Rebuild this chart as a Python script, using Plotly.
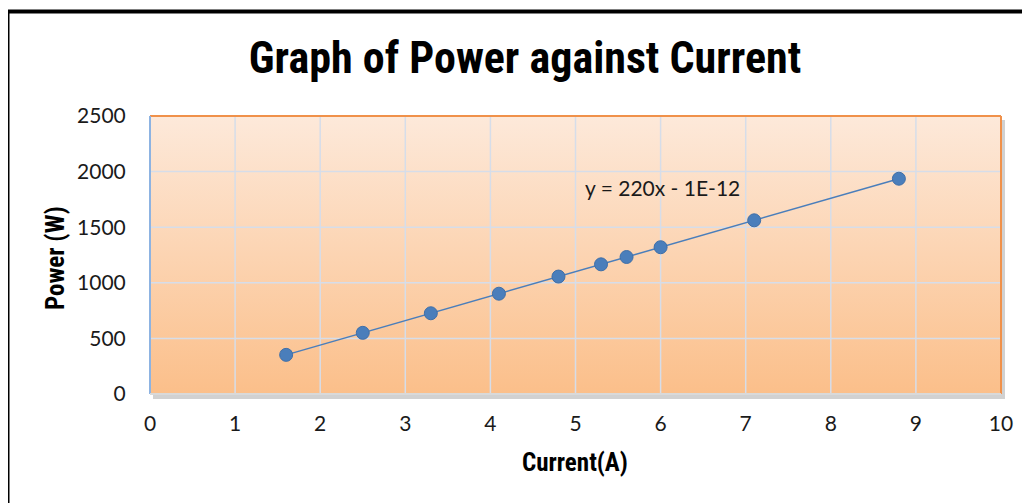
import numpy as np
import plotly.graph_objects as go

current = [1.6, 2.5, 3.3, 4.1, 4.8, 5.3, 5.6, 6.0, 7.1, 8.8]
power = [352, 550, 726, 902, 1056, 1166, 1232, 1320, 1562, 1936]
x_ticks = [0, 1, 2, 3, 4, 5, 6, 7, 8, 9, 10]
y_ticks = [0, 500, 1000, 1500, 2000, 2500]
title_text = "Graph of Power against Current"
x_title = "Current(A)"
y_title = "Power (W)"
eq_text = "y = 220x - 1E-12"

# browser body margin of 8px shifts the figure; compensate
OFF = 8
W, H = 1030 - OFF, 503 - OFF
ml, mt = 150 - OFF, 116 - OFF
pw, ph = 851, 278
mr, mb = W - ml - pw, H - mt - ph

slope, intercept = np.polyfit(current, power, 1)
tx = [min(current), max(current)]
ty = [slope * v + intercept for v in tx]

narrow = "Liberation Sans Narrow, Arial Narrow, Roboto Condensed, Liberation Sans, sans-serif"
tickfont = "Lato, Open Sans, sans-serif"


def px(xp):
    return (xp - OFF - ml) / pw


def py(yp):
    return (mt + ph - (yp - OFF)) / ph


fig = go.Figure()
# gradient background of the plot area
fig.add_trace(go.Scatter(
    x=[0, 10, 10, 0, 0], y=[0, 0, 2500, 2500, 0], mode="lines",
    line=dict(width=0), fill="toself",
    fillgradient=dict(type="vertical",
                      colorscale=[[0, "#fbbf8a"], [1, "#fde9da"]]),
    hoverinfo="skip", showlegend=False))
for v in x_ticks[1:-1]:
    fig.add_trace(go.Scatter(x=[v, v], y=[0, 2500], mode="lines",
                             line=dict(color="#d6dde9", width=1.5),
                             hoverinfo="skip", showlegend=False))
for v in y_ticks[1:-1]:
    fig.add_trace(go.Scatter(x=[0, 10], y=[v, v], mode="lines",
                             line=dict(color="#d6dde9", width=1.5),
                             hoverinfo="skip", showlegend=False))
fig.add_trace(go.Scatter(x=tx, y=ty, mode="lines",
                         line=dict(color="#4a7ebb", width=1.5),
                         hoverinfo="skip", showlegend=False))
fig.add_trace(go.Scatter(x=current, y=power, mode="markers",
                         marker=dict(color="#4a7ebb", size=13,
                                     line=dict(color="#3f6fa8", width=1)),
                         showlegend=False))

shapes = [
    dict(type="rect", xref="paper", yref="paper", x0=px(150 + 3), x1=px(1001 + 4),
         y0=py(394 + 5), y1=py(116 + 4), fillcolor="rgba(0,0,0,0.18)",
         line=dict(width=0), layer="below"),
    dict(type="rect", xref="paper", yref="paper", x0=0, x1=1, y0=0, y1=1,
         fillcolor="white", line=dict(width=0), layer="below"),
    dict(type="line", xref="paper", yref="paper", x0=0, x1=1, y0=1, y1=1,
         line=dict(color="#f0914a", width=2)),
    dict(type="line", xref="paper", yref="paper", x0=1, x1=1, y0=0, y1=1,
         line=dict(color="#f0914a", width=2)),
    dict(type="line", xref="paper", yref="paper", x0=0, x1=0, y0=0, y1=1,
         line=dict(color="#8db3e2", width=2)),
    dict(type="line", xref="paper", yref="paper", x0=0, x1=1, y0=0, y1=0,
         line=dict(color="#d9d9d9", width=2)),
    dict(type="rect", xref="paper", yref="paper", x0=px(7.5), x1=px(1060),
         y0=py(540), y1=py(11.5), line=dict(color="black", width=4),
         fillcolor="rgba(0,0,0,0)"),
]

fig.update_layout(
    width=W, height=H,
    margin=dict(l=ml, r=mr, t=mt, b=mb),
    paper_bgcolor="white", plot_bgcolor="rgba(0,0,0,0)",
    shapes=shapes,
    title=dict(text="<b>" + title_text + "</b>", x=(525 - OFF) / W, xanchor="center",
               y=1 - (58 - OFF) / H, yanchor="middle",
               font=dict(family=narrow, size=44, color="black")),
    xaxis=dict(range=[0, 10], tickvals=x_ticks, showgrid=False, zeroline=False,
               showline=False, ticks="outside", ticklen=11, tickcolor="rgba(0,0,0,0)",
               tickfont=dict(family=tickfont, size=21, color="#1a1a1a")),
    yaxis=dict(range=[0, 2500], tickvals=y_ticks, showgrid=False, zeroline=False,
               showline=False, ticks="outside", ticklen=19, tickcolor="rgba(0,0,0,0)",
               tickfont=dict(family=tickfont, size=21, color="#1a1a1a")),
    annotations=[
        dict(text=eq_text, x=px(583), y=py(187), xref="paper", yref="paper",
             showarrow=False, xanchor="left", yanchor="middle",
             font=dict(family=tickfont, size=21, color="#1a1a1a")),
        dict(text="<b>" + x_title + "</b>", x=px(575), y=py(462), xref="paper",
             yref="paper", showarrow=False, xanchor="center", yanchor="middle",
             font=dict(family=narrow, size=25, color="black")),
        dict(text="<b>" + y_title + "</b>", x=px(56), y=py(258), xref="paper",
             yref="paper", showarrow=False, xanchor="center", yanchor="middle",
             textangle=-90, font=dict(family=narrow, size=25, color="black")),
    ],
)

fig.write_html("out.html")
